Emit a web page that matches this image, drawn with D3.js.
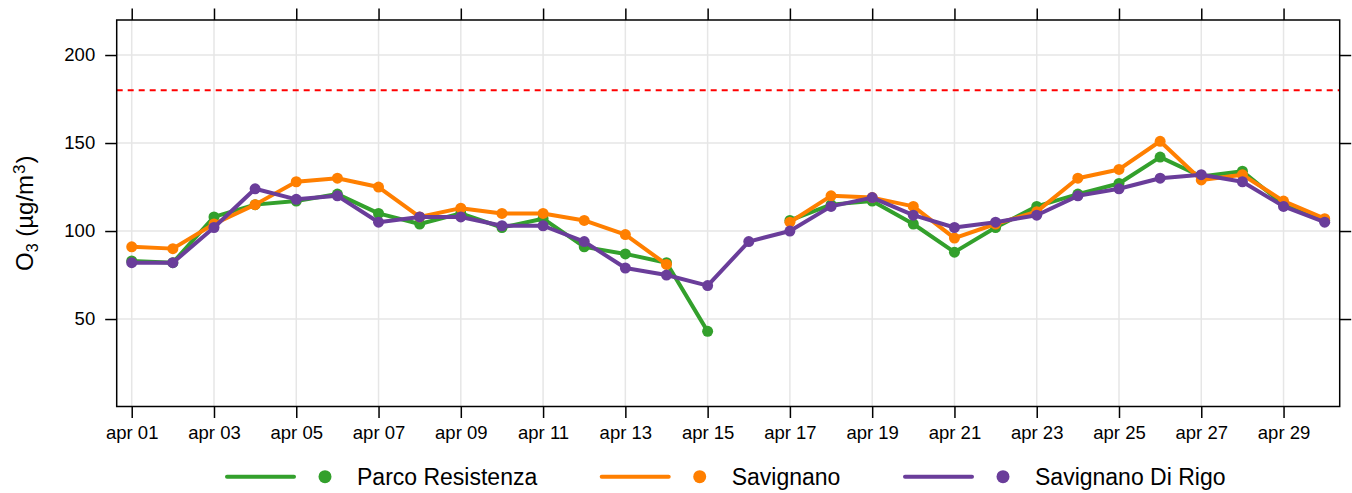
<!DOCTYPE html>
<html>
<head>
<meta charset="utf-8">
<script src="https://cdn.jsdelivr.net/npm/d3@7"></script>
<style>
  html, body { margin: 0; padding: 0; background: #fff; }
  svg { display: block; font-family: "Liberation Sans", Arial, sans-serif; }
</style>
</head>
<body>
<svg id="chart" width="1352" height="493"></svg>
<script>
// ---- data ----
const days = ["2019-04-01","2019-04-02","2019-04-03","2019-04-04","2019-04-05","2019-04-06","2019-04-07","2019-04-08","2019-04-09","2019-04-10",
              "2019-04-11","2019-04-12","2019-04-13","2019-04-14","2019-04-15","2019-04-16","2019-04-17","2019-04-18","2019-04-19","2019-04-20",
              "2019-04-21","2019-04-22","2019-04-23","2019-04-24","2019-04-25","2019-04-26","2019-04-27","2019-04-28","2019-04-29","2019-04-30"];
const seriesNames = ["Parco Resistenza", "Savignano", "Savignano Di Rigo"];
const parcoResistenza = [83, 82, 108, 115, 117, 121, 110, 104, 110, 102,
                         107, 91, 87, 82, 43, null, 106, 115, 117, 104,
                         88, 102, 114, 121, 127, 142, 131, 134, 115, 106];
const savignano =       [91, 90, 104, 115, 128, 130, 125, 108, 113, 110,
                         110, 106, 98, 81, null, null, 105, 120, 119, 114,
                         96, 104, 111, 130, 135, 151, 129, 132, 117, 107];
const savignanoDiRigo = [82, 82, 102, 124, 118, 120, 105, 108, 108, 103,
                         103, 94, 79, 75, 69, 94, 100, 114, 119, 109,
                         102, 105, 109, 120, 124, 130, 132, 128, 114, 105];
const yTicks = [50, 100, 150, 200];
const xTickDays = ["2019-04-01","2019-04-03","2019-04-05","2019-04-07","2019-04-09","2019-04-11","2019-04-13","2019-04-15",
                   "2019-04-17","2019-04-19","2019-04-21","2019-04-23","2019-04-25","2019-04-27","2019-04-29"];
const limitValue = 180;
const colors = ["#33a02c", "#ff7f00", "#6a3d9a"];

// ---- layout ----
const svg = d3.select("#chart");
const L = 116.7, R = 1339.7, T = 20, B = 406.5;
const parse = d3.utcParse("%Y-%m-%d");
const dates = days.map(parse);
const dayMs = 86400000;
const pad = 0.365 * dayMs;

const x = d3.scaleUtc()
  .domain([new Date(+dates[0] - pad), new Date(+dates[dates.length - 1] + pad)])
  .range([L, R]);
const y = d3.scaleLinear().domain([0.3, 219.9]).range([B, T]);

const fmt = d => "apr " + d3.utcFormat("%d")(d);
const xTickDates = xTickDays.map(parse);

// grid
const grid = svg.append("g");
grid.selectAll("line.v").data(xTickDates).join("line")
  .attr("x1", d => x(d)).attr("x2", d => x(d)).attr("y1", T).attr("y2", B)
  .attr("stroke", "#e6e6e6").attr("stroke-width", 1.5);
grid.selectAll("line.h").data(yTicks).join("line")
  .attr("x1", L).attr("x2", R).attr("y1", d => y(d)).attr("y2", d => y(d))
  .attr("stroke", "#e6e6e6").attr("stroke-width", 1.5);

// limit line
svg.append("line")
  .attr("x1", L).attr("x2", R).attr("y1", y(limitValue)).attr("y2", y(limitValue))
  .attr("stroke", "#ff0000").attr("stroke-width", 2).attr("stroke-dasharray", "6,5");

// series
const allSeries = [parcoResistenza, savignano, savignanoDiRigo];
const line = d3.line()
  .defined(d => d.v != null)
  .x(d => x(d.t)).y(d => y(d.v));
allSeries.forEach((vals, i) => {
  const pts = vals.map((v, j) => ({ t: dates[j], v }));
  const g = svg.append("g");
  g.append("path").datum(pts).attr("d", line)
    .attr("fill", "none").attr("stroke", colors[i]).attr("stroke-width", 4)
    .attr("stroke-linejoin", "round").attr("stroke-linecap", "round");
  g.selectAll("circle").data(pts.filter(d => d.v != null)).join("circle")
    .attr("cx", d => x(d.t)).attr("cy", d => y(d.v)).attr("r", 5.5)
    .attr("fill", colors[i]);
});

// axes (lattice style: ticks on all sides, labels bottom/left)
const tickLen = 11.5;
const axB = svg.append("g").attr("transform", `translate(0,${B})`)
  .call(d3.axisBottom(x).tickValues(xTickDates).tickFormat(fmt).tickSize(tickLen).tickPadding(8));
const axT = svg.append("g").attr("transform", `translate(0,${T})`)
  .call(d3.axisTop(x).tickValues(xTickDates).tickFormat("").tickSize(tickLen));
const axL = svg.append("g").attr("transform", `translate(${L},0)`)
  .call(d3.axisLeft(y).tickValues(yTicks).tickSize(tickLen).tickPadding(10));
const axR = svg.append("g").attr("transform", `translate(${R},0)`)
  .call(d3.axisRight(y).tickValues(yTicks).tickFormat("").tickSize(tickLen));
[axB, axT, axL, axR].forEach(a => {
  a.select(".domain").remove();
  a.selectAll(".tick line").attr("stroke", "#000").attr("stroke-width", 1.5);
  a.selectAll("text").attr("fill", "#000").style("font-size", "18.5px")
    .style("font-family", "'Liberation Sans', Arial, sans-serif");
});

// frame
svg.append("rect").attr("x", L).attr("y", T).attr("width", R - L).attr("height", B - T)
  .attr("fill", "none").attr("stroke", "#000").attr("stroke-width", 1.5);

// y label
const yl = svg.append("text")
  .attr("transform", `translate(33,${(T + B) / 2}) rotate(-90)`)
  .attr("text-anchor", "middle").attr("fill", "#000").style("font-size", "24px");
yl.append("tspan").text("O");
yl.append("tspan").text("3").attr("baseline-shift", "-30%").style("font-size", "16px");
yl.append("tspan").text(" (\u00b5g/m");
yl.append("tspan").text("3").attr("dx", 1).attr("baseline-shift", "45%").style("font-size", "17px");
yl.append("tspan").text(")").attr("dx", 1);

// legend
const legX = [227, 601.7, 905];
const legY = 476.7;
seriesNames.forEach((name, i) => {
  const g = svg.append("g").attr("transform", `translate(${legX[i]},${legY})`);
  g.append("line").attr("x1", 0).attr("x2", 67).attr("y1", 0).attr("y2", 0)
    .attr("stroke", colors[i]).attr("stroke-width", 4).attr("stroke-linecap", "round");
  g.append("circle").attr("cx", 98).attr("cy", 0).attr("r", 6.5).attr("fill", colors[i]);
  g.append("text").attr("x", 130).attr("y", 8).attr("fill", "#000")
    .style("font-size", "23px").text(name);
});
</script>
</body>
</html>
